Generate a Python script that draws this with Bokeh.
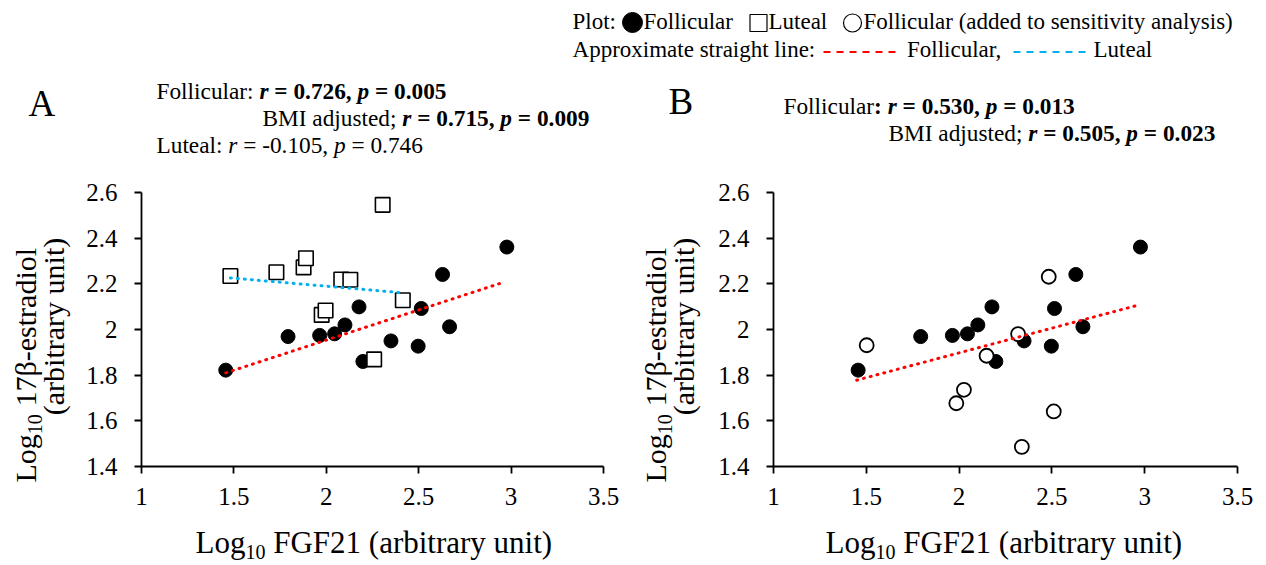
import math
from bokeh.plotting import figure
from bokeh.models import Range1d, Label, FixedTicker, CustomJSTickFormatter
from bokeh.layouts import column, row
from bokeh.embed import file_html
from bokeh.resources import INLINE

# ---------------- data ----------------
fol_x = [1.456, 1.793, 1.964, 2.045, 2.101, 2.177, 2.198, 2.350, 2.497, 2.514, 2.629, 2.667, 2.977]
fol_y = [1.822, 1.969, 1.974, 1.981, 2.020, 2.099, 1.860, 1.950, 1.927, 2.092, 2.241, 2.012, 2.361]
lut_x = [1.481, 1.730, 1.877, 1.890, 1.975, 1.996, 2.081, 2.130, 2.305, 2.259, 2.414]
lut_y = [2.234, 2.251, 2.272, 2.312, 2.064, 2.083, 2.219, 2.218, 2.546, 1.869, 2.128]
add_x = [1.502, 1.985, 2.026, 2.148, 2.318, 2.338, 2.483, 2.510]
add_y = [1.931, 1.677, 1.736, 1.885, 1.980, 1.486, 2.231, 1.641]
fitA_fol_x = [1.456, 2.937]
fitA_fol_y = [1.810, 2.201]
fitA_lut_x = [1.481, 2.409]
fitA_lut_y = [2.226, 2.161]
fitB_x = [1.448, 2.953]
fitB_y = [1.778, 2.104]
x_ticks = [1, 1.5, 2, 2.5, 3, 3.5]
y_ticks = [1.4, 1.6, 1.8, 2.0, 2.2, 2.4, 2.6]
x_title = ["Log", "10", " FGF21 (arbitrary unit)"]
y_title = ["Log", "10", " 17\u03b2-estradiol", "(arbitrary unit)"]

SERIF = "Liberation Serif"
RED = "#FF0000"
BLUE = "#00B0F0"
MID = 0.34  # distance baseline -> text-box middle, in em

# Times / Liberation Serif advance widths (1/1000 em)
REG = {' ': 250, '(': 333, ')': 333, ',': 250, '-': 333, '.': 250, ':': 278, ';': 278, '=': 564,
       'A': 722, 'B': 667, 'F': 556, 'G': 722, 'I': 333, 'L': 611, 'M': 889, 'P': 556,
       'a': 444, 'b': 500, 'c': 444, 'd': 500, 'e': 444, 'g': 500, 'h': 500, 'i': 278, 'j': 278,
       'l': 278, 'm': 778, 'n': 500, 'o': 500, 'p': 500, 'r': 333, 's': 389, 't': 278, 'u': 500,
       'v': 500, 'x': 500, 'y': 500, '\u03b2': 520}
for d in "0123456789":
    REG[d] = 500
BOLD = dict(REG)
BOLD.update({':': 333, '=': 570})
ITAL = dict(REG)
ITAL.update({'r': 389, 'p': 500})
BI = dict(BOLD)
BI.update({'r': 389, 'p': 500})
TABLES = {"normal": REG, "bold": BOLD, "italic": ITAL, "bold italic": BI}


def tw(s, style, size):
    t = TABLES[style]
    return sum(t.get(c, 500) for c in s) * size / 1000.0


def label(fig, x, y, text, size, style="normal", angle=0.0, align="center"):
    fig.add_layout(Label(x=x, y=y, text=text, angle=angle, text_font=SERIF,
                         text_font_style=style, text_font_size=f"{size}px",
                         text_color="black", text_align=align, text_baseline="middle"))


def runs(fig, px, base, parts, vertical=False):
    """parts: (text, style, size, baseline shift).  Coordinates are page pixels.
    Each run is placed by its centre."""
    pos = 0.0
    for text, style, size, dy in parts:
        lead = len(text) - len(text.lstrip(' '))
        off = tw(' ' * lead, style, size)
        s = text.strip(' ')
        half = tw(s, style, size) / 2.0
        if vertical:
            label(fig, base + dy - MID * size, px - pos - off - half, s, size, style, math.pi / 2)
        else:
            label(fig, px + pos + off + half, base + dy - MID * size, s, size, style)
        pos += tw(text, style, size)


def no_align(f):
    try:
        f.frame_align = False
    except Exception:
        pass


def blank(width, height, x0, x1, y0, y1):
    f = figure(width=width, height=height, x_range=Range1d(x0, x1), y_range=Range1d(y1, y0),
               output_backend="svg", toolbar_location=None, min_border=0,
               x_axis_location=None, y_axis_location=None)
    f.grid.visible = False
    f.outline_line_color = None
    no_align(f)
    return f


TOP_H = 165
ROW_H = 351
BOT_H = 565 - TOP_H - ROW_H

# ---------------- header (legend + annotations) ----------------
hdr = blank(1266, TOP_H, 0, 1266, 0, TOP_H)

LS = 23
runs(hdr, 572, 29.3, [("Plot:", "normal", LS, 0)])
hdr.scatter([632], [22], marker="circle", size=20, color="black")
runs(hdr, 643, 29.3, [("Follicular", "normal", LS, 0)])
hdr.scatter([758], [22.5], marker="square", size=17, fill_color="white", line_color="black", line_width=1.2)
runs(hdr, 768, 29.3, [("Luteal", "normal", LS, 0)])
hdr.scatter([852], [22.5], marker="circle", size=18, fill_color="white", line_color="black", line_width=1.2)
runs(hdr, 863, 29.3, [("Follicular (added to sensitivity analysis)", "normal", LS, 0)])
runs(hdr, 572, 57.3, [("Approximate straight line:", "normal", LS, 0)])
hdr.line([823, 898], [51.5, 51.5], line_color=RED, line_width=2, line_dash="7 6")
runs(hdr, 906, 57.3, [("Follicular,", "normal", LS, 0)])
hdr.line([1013, 1088], [51.5, 51.5], line_color=BLUE, line_width=2, line_dash="7 6")
runs(hdr, 1093, 57.3, [("Luteal", "normal", LS, 0)])

runs(hdr, 28, 116, [("A", "normal", 37, 0)])
runs(hdr, 668, 114, [("B", "normal", 37, 0)])

AS = 23.3
runs(hdr, 156, 98, [("Follicular: ", "normal", AS, 0), ("r", "bold italic", AS, 0),
                    (" = 0.726, ", "bold", AS, 0), ("p", "bold italic", AS, 0),
                    (" = 0.005", "bold", AS, 0)])
runs(hdr, 262, 125, [("BMI adjusted; ", "normal", AS, 0), ("r", "bold italic", AS, 0),
                     (" = 0.715, ", "bold", AS, 0), ("p", "bold italic", AS, 0),
                     (" = 0.009", "bold", AS, 0)])
runs(hdr, 156, 152, [("Luteal: ", "normal", AS, 0), ("r", "italic", AS, 0),
                     (" = -0.105, ", "normal", AS, 0), ("p", "italic", AS, 0),
                     (" = 0.746", "normal", AS, 0)])
runs(hdr, 783, 113, [("Follicular", "normal", AS, 0), (": ", "bold", AS, 0),
                     ("r", "bold italic", AS, 0), (" = 0.530, ", "bold", AS, 0),
                     ("p", "bold italic", AS, 0), (" = 0.013", "bold", AS, 0)])
runs(hdr, 888, 140, [("BMI adjusted; ", "normal", AS, 0), ("r", "bold italic", AS, 0),
                     (" = 0.505, ", "bold", AS, 0), ("p", "bold italic", AS, 0),
                     (" = 0.023", "bold", AS, 0)])


# ---------------- panels ----------------
def make_panel(width, left, right):
    top, bottom = 27, 50
    p = figure(width=width, height=ROW_H, x_range=Range1d(1, 3.5), y_range=Range1d(1.4, 2.6),
               output_backend="svg", toolbar_location=None,
               min_border_left=left, min_border_right=right,
               min_border_top=top, min_border_bottom=bottom)
    no_align(p)
    p.grid.visible = False
    p.outline_line_color = None
    p.xaxis.ticker = FixedTicker(ticks=x_ticks)
    p.yaxis.ticker = FixedTicker(ticks=y_ticks)
    fmt = "return String(Math.round(tick*10)/10);"
    for ax in (p.xaxis[0], p.yaxis[0]):
        ax.formatter = CustomJSTickFormatter(code=fmt)
        ax.axis_line_color = "black"
        ax.axis_line_width = 1.8
        ax.major_tick_line_color = "black"
        ax.major_tick_line_width = 1.8
        ax.major_tick_out = 7
        ax.major_tick_in = 0
        ax.minor_tick_out = 0
        ax.minor_tick_in = 0
        ax.major_label_text_font = SERIF
        ax.major_label_text_font_size = "25px"
        ax.major_label_text_color = "black"
    p.xaxis.major_label_standoff = 14
    p.yaxis.major_label_standoff = 17
    return p


YS, YSS, YSD = 30, 20, 6


def ytitle(x0, x1, base1, base2):
    f = blank(x1 - x0, ROW_H, x0, x1, TOP_H, TOP_H + ROW_H)
    runs(f, 482, base1, [(y_title[0], "normal", YS, 0), (y_title[1], "normal", YSS, YSD),
                         (y_title[2], "normal", YS, 0)], vertical=True)
    label(f, base2 - MID * YS, 326, y_title[3], YS, angle=math.pi / 2)
    return f


ylA = ytitle(0, 83, 35, 63)
pA = make_panel(557, 57, 37)
pA.scatter(fol_x, fol_y, marker="circle", size=14, color="black")
pA.scatter(lut_x, lut_y, marker="square", size=14.5, fill_color="white", line_color="black", line_width=1.6)
pA.line(fitA_fol_x, fitA_fol_y, line_color=RED, line_width=3, line_dash="1 6", line_cap="round")
pA.line(fitA_lut_x, fitA_lut_y, line_color=BLUE, line_width=3, line_dash="1 6", line_cap="round")

ylB = ytitle(640, 715, 665, 693)
pB = make_panel(551, 58, 29)
pB.scatter(fol_x, fol_y, marker="circle", size=14, color="black")
pB.scatter(add_x, add_y, marker="circle", size=14, fill_color="white", line_color="black", line_width=1.8)
pB.line(fitB_x, fitB_y, line_color=RED, line_width=3, line_dash="1 6", line_cap="round")

xl = blank(1266, BOT_H, 0, 1266, TOP_H + ROW_H, 565)
XS, XSS, XSD = 31, 20, 5
for x_start in (195, 825):
    runs(xl, x_start, 553, [(x_title[0], "normal", XS, 0), (x_title[1], "normal", XSS, XSD),
                            (x_title[2], "normal", XS, 0)])

layout = column(hdr, row(ylA, pA, ylB, pB), xl)
open("out.html", "w").write(file_html(layout, INLINE))
